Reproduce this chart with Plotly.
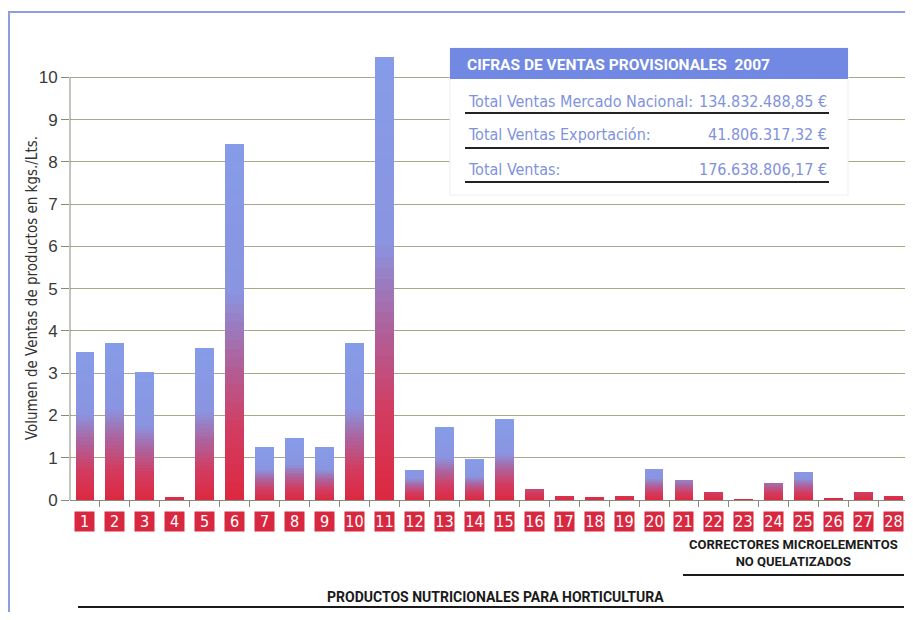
import plotly.graph_objects as go

# ---- data ----
categories = list(range(1, 29))
cat_labels = [str(c) for c in categories]
volumes = [3.50, 3.71, 3.03, 0.07, 3.59, 8.42, 1.25, 1.47, 1.25, 3.71,
           10.47, 0.69, 1.73, 0.95, 1.91, 0.24, 0.09, 0.05, 0.09, 0.71,
           0.45, 0.17, 0.02, 0.38, 0.64, 0.03, 0.17, 0.08]
y_ticks = list(range(0, 11))
y_title = "Volumen de Ventas de productos en kgs./Lts."
box_title = "CIFRAS DE VENTAS PROVISIONALES  2007"
box_rows = ["Total Ventas Mercado Nacional:", "Total Ventas Exportación:", "Total Ventas:"]
box_values = ["134.832.488,85 €", "41.806.317,32 €", "176.638.806,17 €"]
group_small = "CORRECTORES MICROELEMENTOS<br>NO QUELATIZADOS"
group_big = "PRODUCTOS NUTRICIONALES PARA HORTICULTURA"

# ---- style ----
OX, OY = 8, 8            # page body margin offset
W, H = 913 - 2 * OX, 620 - 2 * OY
ML, MR, MT = 70 - OX, 0, 52 - OY
MB = H - (500 - OY)
PW, PH = W - ML - MR, H - MT - MB
SPACING = 29.95          # pixels per category
NARROW = "DejaVu Sans Condensed, DejaVu Sans, sans-serif"
BOLDC = "Roboto, Liberation Sans, sans-serif"
SANS = "Liberation Sans, Arial, sans-serif"
GRID = "#a8a788"
BLUE_TXT = "#7f92e0"
FRAME = "#8c9de2"

stops = [(0.0, (221, 40, 64)), (0.2, (210, 60, 96)), (0.40, (172, 100, 160)),
         (0.58, (138, 148, 224)), (1.0, (134, 156, 232))]


def grad(t):
    t = max(0.0, min(1.0, t))
    for (a, ca), (b, cb) in zip(stops[:-1], stops[1:]):
        if t <= b:
            f = (t - a) / (b - a) if b > a else 0
            c = [round(ca[i] + (cb[i] - ca[i]) * f) for i in range(3)]
            return "rgb(%d,%d,%d)" % tuple(c)
    return "rgb(%d,%d,%d)" % stops[-1][1]


N = 40
fig = go.Figure()
for k in range(N):
    t = (k + 0.5) / N
    cols = [grad(t * min(1.0, v / 0.9)) for v in volumes]
    fig.add_trace(go.Bar(
        x=categories, y=[v / N for v in volumes], width=0.63,
        marker=dict(color=cols, line=dict(width=0)),
        showlegend=False, hoverinfo="skip"))


def px_x(p):  # reference pixel -> paper x
    return (p - OX - ML) / PW


def px_y(p):  # reference pixel -> paper y
    return (H - MB - (p - OY)) / PH


shapes = []
annotations = []

# outer frame
shapes.append(dict(type="rect", xref="paper", yref="paper",
                   x0=px_x(9), x1=px_x(930), y0=px_y(640), y1=px_y(12),
                   line=dict(color=FRAME, width=2), layer="below"))
# y axis line
shapes.append(dict(type="line", xref="paper", yref="y", x0=0, x1=0,
                   y0=-0.17, y1=10, line=dict(color="#8a8a78", width=1)))

# info box
shapes.append(dict(type="rect", xref="paper", yref="paper",
                   x0=px_x(450), x1=px_x(848), y0=px_y(195), y1=px_y(48),
                   fillcolor="white", line=dict(color="#eeeeee", width=1), layer="above"))
shapes.append(dict(type="rect", xref="paper", yref="paper",
                   x0=px_x(450), x1=px_x(848), y0=px_y(79), y1=px_y(48),
                   fillcolor="#7189e2", line=dict(width=0), layer="above"))
annotations.append(dict(xref="paper", yref="paper", x=px_x(465), y=px_y(65),
                        xanchor="left", yanchor="middle", showarrow=False,
                        text="<b>" + box_title + "</b>",
                        font=dict(family=BOLDC, size=15.5, color="white")))
row_y = [101, 135, 170]
line_y = [113, 148, 182]
for lbl, val, ry, ly in zip(box_rows, box_values, row_y, line_y):
    annotations.append(dict(xref="paper", yref="paper", x=px_x(466), y=px_y(ry),
                            xanchor="left", yanchor="middle", showarrow=False,
                            text=lbl, font=dict(family=NARROW, size=16, color=BLUE_TXT)))
    annotations.append(dict(xref="paper", yref="paper", x=px_x(829), y=px_y(ry),
                            xanchor="right", yanchor="middle", showarrow=False,
                            text=val, font=dict(family=NARROW, size=16, color=BLUE_TXT)))
    shapes.append(dict(type="line", xref="paper", yref="paper",
                       x0=px_x(465), x1=px_x(829), y0=px_y(ly), y1=px_y(ly),
                       line=dict(color="#222222", width=2), layer="above"))

# category label boxes
for c, lab in zip(categories, cat_labels):
    annotations.append(dict(xref="x", yref="paper", x=c, y=0, yshift=-21,
                            xanchor="center", yanchor="middle", showarrow=False,
                            text=lab, width=19, height=19, bgcolor="#d8283f",
                            borderpad=0,
                            font=dict(family=NARROW, size=16, color="white")))

# group labels
annotations.append(dict(xref="paper", yref="paper", x=px_x(793), y=px_y(553),
                        xanchor="center", yanchor="middle", showarrow=False,
                        text="<b>" + group_small + "</b>",
                        font=dict(family=BOLDC, size=13, color="#1a1a1a")))
shapes.append(dict(type="line", xref="paper", yref="paper",
                   x0=px_x(683), x1=px_x(904), y0=px_y(575), y1=px_y(575),
                   line=dict(color="#1a1a1a", width=2)))
annotations.append(dict(xref="paper", yref="paper", x=px_x(495), y=px_y(597),
                        xanchor="center", yanchor="middle", showarrow=False,
                        text="<b>" + group_big + "</b>",
                        font=dict(family=BOLDC, size=14, color="#1a1a1a")))
shapes.append(dict(type="line", xref="paper", yref="paper",
                   x0=px_x(78), x1=px_x(904), y0=px_y(607), y1=px_y(607),
                   line=dict(color="#1a1a1a", width=2)))

# y title
annotations.append(dict(xref="paper", yref="paper", x=px_x(32), y=px_y(288),
                        xanchor="center", yanchor="middle", showarrow=False,
                        textangle=-90, text=y_title,
                        font=dict(family=NARROW, size=15, color="#333333")))

fig.update_layout(
    width=W, height=H, barmode="stack", bargap=0,
    margin=dict(l=ML, r=MR, t=MT, b=MB, autoexpand=False),
    paper_bgcolor="white", plot_bgcolor="white",
    xaxis=dict(range=[0.5, 0.5 + PW / SPACING], tickmode="array",
               tickvals=[c + 0.5 for c in categories], ticks="outside",
               ticklen=6, tickcolor="#8a8a78", showticklabels=False,
               showgrid=False, zeroline=False, showline=False, fixedrange=True),
    yaxis=dict(range=[0, 10.6], tickmode="array", tickvals=y_ticks,
               ticktext=[str(v) for v in y_ticks], ticks="outside", ticklen=8,
               tickcolor="#8a8a78", showgrid=True, gridcolor=GRID, gridwidth=1,
               zeroline=True, zerolinecolor="#8a8a78", zerolinewidth=1,
               showline=False,
               tickfont=dict(family=SANS, size=17, color="#3a3a3a")),
    shapes=shapes, annotations=annotations,
)

fig.write_html("out.html")
